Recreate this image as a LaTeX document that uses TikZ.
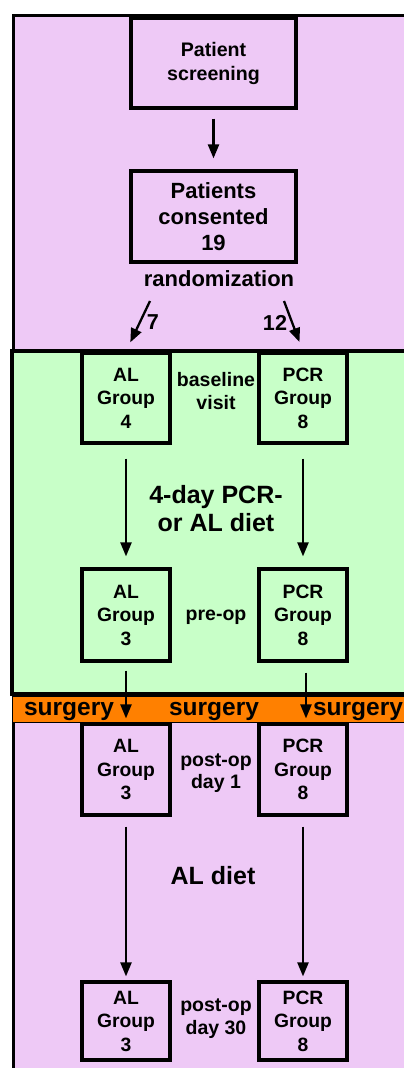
\documentclass[tikz,border=0pt]{standalone}
\usepackage{fontspec}
\setmainfont{Liberation Sans}
\usetikzlibrary{arrows.meta,positioning}
\definecolor{lilac}{RGB}{238,201,246}
\definecolor{mint}{RGB}{200,255,200}
\definecolor{surg}{RGB}{255,128,0}

\begin{document}
\begin{tikzpicture}[x=1pt,y=-1pt,
    box/.style={draw,line width=3.2pt,inner sep=0pt,align=center,
      font=\bfseries\fontsize{19.3}{23.5}\selectfont},
    grp/.style={box,minimum width=88pt,minimum height=90pt},
    txt/.style={inner sep=0pt,align=center,font=\bfseries\fontsize{19.5}{22.5}\selectfont},
    big/.style={txt,font=\bfseries\fontsize{25}{28}\selectfont},
    arr/.style={line width=2.3pt,-{Triangle[length=14pt,width=11pt]}}
  ]
  \useasboundingbox (0,0) rectangle (404,1068);
  % background bands
  \begin{scope}
    \clip (0,0) rectangle (404,1068);
    \draw[fill=lilac,line width=3pt] (13,15.5) rectangle (430,1090);
    \draw[fill=mint,line width=4pt] (11.5,351) rectangle (430,694);
    \draw[fill=surg,line width=1.5pt] (12.5,696) rectangle (430,722.5);
  \end{scope}
  % enrolment
  \node[box,minimum width=165pt,minimum height=90pt,
    font=\bfseries\fontsize{19.6}{24}\selectfont] (screen) at (213.5,63) {Patient\\screening};
  \node[box,minimum width=165pt,minimum height=91pt,
    font=\bfseries\fontsize{22}{26}\selectfont] (consent) at (213.5,216.5) {Patients\\consented\\19};
  \node[txt,font=\bfseries\fontsize{22}{26}\selectfont] (rand) at (219,279) {randomization};
  \coordinate (r7) at (150,301);
  \coordinate (r12) at (284,301);
  % groups
  \node[grp] (alA) at (126,398) {AL\\Group\\4};
  \node[grp] (pcrA) at (303,398) {PCR\\Group\\8};
  \node[grp,minimum height=92pt] (alB) at (126,615) {AL\\Group\\3};
  \node[grp,minimum height=92pt] (pcrB) at (303,615) {PCR\\Group\\8};
  \node[grp,minimum height=91pt] (alC) at (126,769.5) {AL\\Group\\3};
  \node[grp,minimum height=91pt] (pcrC) at (303,769.5) {PCR\\Group\\8};
  \node[grp,minimum height=78pt] (alD) at (126,1021) {AL\\Group\\3};
  \node[grp,minimum height=78pt] (pcrD) at (303,1021) {PCR\\Group\\8};
  % labels between the columns
  \node[txt,font=\bfseries\fontsize{21.6}{24}\selectfont] (n7) at (153,322.5) {7};
  \node[txt,font=\bfseries\fontsize{21.6}{24}\selectfont] (n12) at (275,322.5) {12};
  \node[txt] (base) at (216,391) {baseline\\visit};
  \node[big] (diet) at (216,509) {4-day PCR-\\or AL diet};
  \node[txt] (pre) at (216,617) {pre-op};
  \foreach \x/\nm in {69/s1,214/s2,358/s3}
    \node[txt,font=\bfseries\fontsize{24.5}{26}\selectfont] (\nm) at (\x,711) {surgery};
  \node[txt] (post1) at (216,773) {post-op\\day 1};
  \node[big] (aldiet) at (213,876) {AL diet};
  \node[txt] (post30) at (216,1018.5) {post-op\\day 30};
  % arrows
  \draw[arr,shorten <=9pt,shorten >=11pt] (screen) -- (consent);
  \draw[arr,shorten >=10pt] (r7) -- (alA.north);
  \draw[arr,shorten >=10pt] (r12) -- (pcrA.north);
  \draw[arr,shorten <=14pt,shorten >=11pt] (alA) -- (alB);
  \draw[arr,shorten <=14pt,shorten >=11pt] (pcrA) -- (pcrB);
  \draw[arr,shorten <=8pt,shorten >=4pt] (alB) -- (alC);
  \draw[arr,shorten <=10pt,shorten >=4pt] ([xshift=3pt]pcrB.south) -- ([xshift=3pt]pcrC.north);
  \draw[arr,shorten <=10pt,shorten >=4pt] (alC) -- (alD);
  \draw[arr,shorten <=10pt,shorten >=4pt] (pcrC) -- (pcrD);
\end{tikzpicture}
\end{document}
